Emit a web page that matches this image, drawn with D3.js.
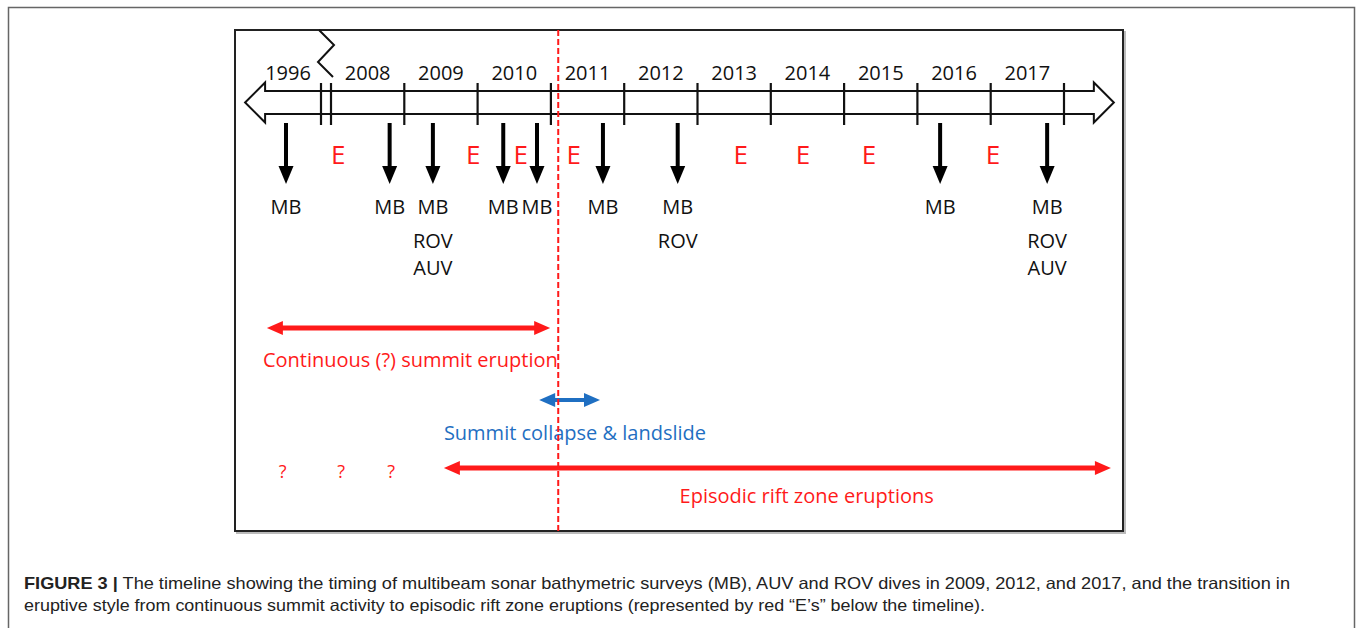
<!DOCTYPE html>
<html>
<head>
<meta charset="utf-8">
<script src="https://cdn.jsdelivr.net/npm/d3@7"></script>
<style>
	body { margin: 0; background: #fff; }
	svg { display: block; }
</style>
</head>
<body>
<div id="chart"></div>
<script>
// timeline values (decimal years)
var tickYears = [1997, 2008, 2009, 2010, 2011, 2012, 2013, 2014, 2015, 2016, 2017, 2018];
var yearLabels = ["1996", "2008", "2009", "2010", "2011", "2012", "2013", "2014", "2015", "2016", "2017"];
var surveyDates = [1996.47, 2008.80, 2009.39, 2010.35, 2010.81, 2011.71, 2012.73, 2016.31, 2017.77];
var surveyTypes = [["MB"], ["MB"], ["MB", "ROV", "AUV"], ["MB"], ["MB"], ["MB"], ["MB", "ROV"], ["MB"], ["MB", "ROV", "AUV"]];
var eruptionDates = [2008.10, 2009.94, 2010.59, 2011.31, 2013.59, 2014.44, 2015.34, 2017.03];
var uncertainDates = [1996.42, 2008.14, 2008.82];
var transitionDate = 2011.10;
var phaseNames = ["Continuous (?) summit eruption", "Summit collapse & landslide", "Episodic rift zone eruptions"];
var phaseStart = [1996.18, 2010.84, 2009.54];
var phaseEnd = [2010.99, 2011.67, 2018.64];
var phaseLabelAt = [1996.12, 2009.54, 2014.49];
var axisExtent = [1995.85, 2018.68];

var W = 1357, H = 628;
var red = "#ff1a1a", blue = "#1f6fc2";
var font = "'Open Sans', 'Noto Sans', sans-serif";

const svg = d3.select("#chart").append("svg")
	.attr("width", W)
	.attr("height", H);

// outer figure frame
svg.append("rect")
	.attr("x", 8.5).attr("y", 7.5)
	.attr("width", 1346).attr("height", 640)
	.attr("fill", "none")
	.attr("stroke", "#666")
	.attr("stroke-width", 1.5);

// plot box
var box = {x: 235, y: 30, w: 888, h: 501};
svg.append("rect")
	.attr("x", box.x + 2).attr("y", box.y + 2)
	.attr("width", box.w).attr("height", box.h)
	.attr("fill", "none")
	.attr("stroke", "#bbb")
	.attr("stroke-width", 2);
svg.append("rect")
	.attr("x", box.x).attr("y", box.y)
	.attr("width", box.w).attr("height", box.h)
	.attr("fill", "#fff")
	.attr("stroke", "#222")
	.attr("stroke-width", 2);

// broken time scale: 1996 squeezed in front of 2008
const x = d3.scaleLinear()
	.domain([1996, 1997, 2008, 2018])
	.range([255, 321, 331, 1064]);

// timeline band (double-headed outlined arrow)
var yc = 102.5, half = 11.5, headH = 20, headL = 20;
var xl = x(axisExtent[0]), xr = x(axisExtent[1]);
var band = d3.path();
band.moveTo(xl, yc);
band.lineTo(xl + headL, yc - headH);
band.lineTo(xl + headL, yc - half);
band.lineTo(xr - headL, yc - half);
band.lineTo(xr - headL, yc - headH);
band.lineTo(xr, yc);
band.lineTo(xr - headL, yc + headH);
band.lineTo(xr - headL, yc + half);
band.lineTo(xl + headL, yc + half);
band.lineTo(xl + headL, yc + headH);
band.closePath();
svg.append("path")
	.attr("d", band.toString())
	.attr("fill", "#fff")
	.attr("stroke", "#111")
	.attr("stroke-width", 2)
	.attr("stroke-linejoin", "miter");

svg.append("g").selectAll("line")
	.data(tickYears)
	.join("line")
	.attr("x1", d => x(d)).attr("x2", d => x(d))
	.attr("y1", 83).attr("y2", 125)
	.attr("stroke", "#111")
	.attr("stroke-width", 2.2);

// zigzag marking the break between 1996 and 2008
var xm = (x(1997) + x(2008)) / 2;
svg.append("path")
	.attr("d", "M" + (xm - 7) + ",30 L" + (xm + 8) + ",45 L" + (xm - 8) + ",62 L" + (xm + 7) + ",77")
	.attr("fill", "none")
	.attr("stroke", "#111")
	.attr("stroke-width", 2);

svg.append("g").selectAll("text")
	.data(yearLabels)
	.join("text")
	.attr("x", d => x(+d + 0.5))
	.attr("y", 80)
	.attr("text-anchor", "middle")
	.attr("font-family", font)
	.attr("font-size", 20)
	.attr("fill", "#111")
	.text(d => d);

// survey arrows
const surveys = svg.append("g").selectAll("g")
	.data(surveyDates)
	.join("g");
surveys.append("line")
	.attr("x1", d => x(d)).attr("x2", d => x(d))
	.attr("y1", 123).attr("y2", 168)
	.attr("stroke", "#000")
	.attr("stroke-width", 4);
surveys.append("path")
	.attr("d", d => "M" + (x(d) - 7.5) + ",166 L" + (x(d) + 7.5) + ",166 L" + x(d) + ",184 Z")
	.attr("fill", "#000");
var labelY = [214, 248, 275];
surveys.selectAll("text")
	.data((d, i) => surveyTypes[i].map((t, j) => ({t: t, j: j, x: x(d)})))
	.join("text")
	.attr("x", d => d.x)
	.attr("y", d => labelY[d.j])
	.attr("text-anchor", "middle")
	.attr("font-family", font)
	.attr("font-size", 20)
	.attr("fill", "#111")
	.text(d => d.t);

// eruptions
svg.append("g").selectAll("text")
	.data(eruptionDates)
	.join("text")
	.attr("x", d => x(d))
	.attr("y", 164)
	.attr("text-anchor", "middle")
	.attr("font-family", font)
	.attr("font-size", 26)
	.attr("fill", red)
	.text("E");

// phase arrows
var phaseY = [328, 400, 468];
var phaseTextY = [367, 440, 503];
var phaseColor = [red, blue, red];
var phaseWidth = [5, 4, 5];
var phaseAnchor = ["start", "start", "middle"];

function doubleArrow(g, x1, x2, y, color, w, hl, hw) {
	g.append("line")
		.attr("x1", x1 + hl - 2).attr("x2", x2 - hl + 2)
		.attr("y1", y).attr("y2", y)
		.attr("stroke", color)
		.attr("stroke-width", w);
	g.append("path")
		.attr("d", "M" + x1 + "," + y + " L" + (x1 + hl) + "," + (y - hw) + " L" + (x1 + hl) + "," + (y + hw) + " Z" +
			" M" + x2 + "," + y + " L" + (x2 - hl) + "," + (y - hw) + " L" + (x2 - hl) + "," + (y + hw) + " Z")
		.attr("fill", color);
}

phaseNames.forEach(function(name, i) {
	var g = svg.append("g");
	doubleArrow(g, x(phaseStart[i]), x(phaseEnd[i]), phaseY[i], phaseColor[i], phaseWidth[i], 16, 7);
	g.append("text")
		.attr("x", x(phaseLabelAt[i]))
		.attr("y", phaseTextY[i])
		.attr("text-anchor", phaseAnchor[i])
		.attr("font-family", font)
		.attr("font-size", 20)
		.attr("fill", phaseColor[i])
		.text(name);
});

svg.append("g").selectAll("text")
	.data(uncertainDates)
	.join("text")
	.attr("x", d => x(d))
	.attr("y", 478)
	.attr("text-anchor", "middle")
	.attr("font-family", font)
	.attr("font-size", 18)
	.attr("fill", red)
	.text("?");

// transition line
svg.append("line")
	.attr("x1", x(transitionDate)).attr("x2", x(transitionDate))
	.attr("y1", box.y).attr("y2", box.y + box.h)
	.attr("stroke", red)
	.attr("stroke-width", 2)
	.attr("stroke-dasharray", "6,3");

// caption
var cap1 = svg.append("text")
	.attr("x", 24).attr("y", 589)
	.attr("font-family", "'Liberation Sans', Arial, sans-serif")
	.attr("font-size", 16.5)
	.attr("fill", "#222")
	.attr("textLength", 1266)
	.attr("lengthAdjust", "spacingAndGlyphs");
cap1.append("tspan").attr("font-weight", "bold").text("FIGURE 3 |");
cap1.append("tspan").text(" The timeline showing the timing of multibeam sonar bathymetric surveys (MB), AUV and ROV dives in 2009, 2012, and 2017, and the transition in");
svg.append("text")
	.attr("x", 24).attr("y", 611)
	.attr("font-family", "'Liberation Sans', Arial, sans-serif")
	.attr("font-size", 16.5)
	.attr("fill", "#222")
	.attr("textLength", 961)
	.attr("lengthAdjust", "spacingAndGlyphs")
	.text("eruptive style from continuous summit activity to episodic rift zone eruptions (represented by red \u201cE\u2019s\u201d below the timeline).");
</script>
</body>
</html>
